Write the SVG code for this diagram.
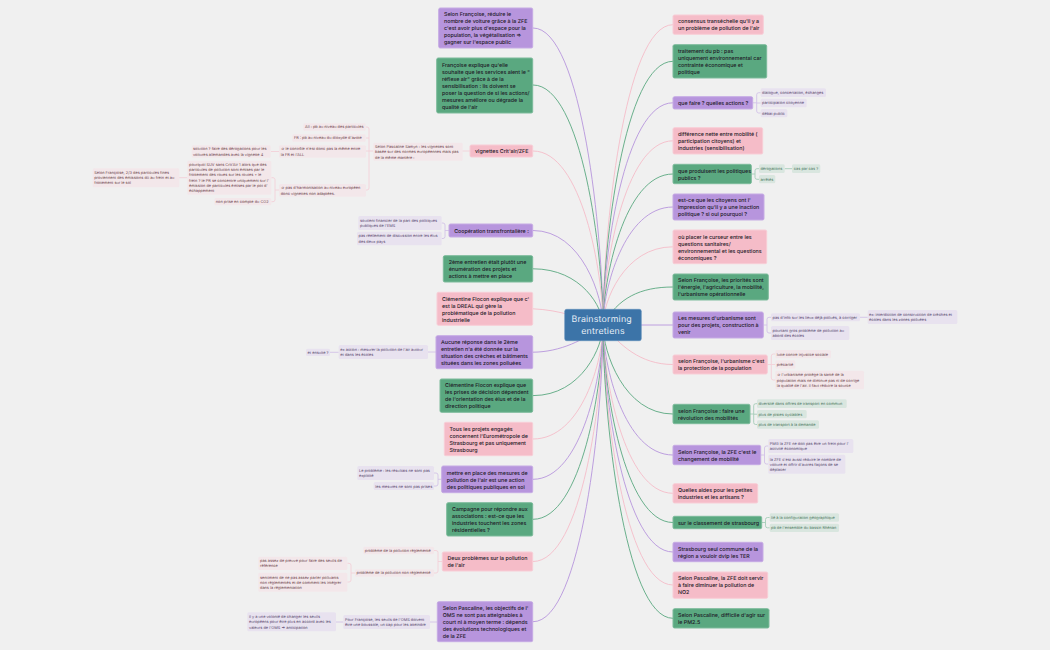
<svg xmlns="http://www.w3.org/2000/svg" width="1050" height="650" viewBox="0 0 1050 650">
<style>
text{font-family:Inter,"Noto Sans","DejaVu Sans",sans-serif;text-rendering:geometricPrecision}
.m{font-size:5.3px;font-weight:500;fill:#1c1826}
.s{font-size:3.9px}
.c{fill:none;stroke-width:.9}
.pu{stroke:#b795dd}.gr{stroke:#5aa880}.pk{stroke:#f5bcc8}
.spu{stroke:#d3c2e8}.sgr{stroke:#a5cdb8}.spk{stroke:#f3d0d8}
.fpu{fill:#b795dd;stroke:#c6abe4}.fgr{fill:#5aa880;stroke:#7cbb9b}.fpk{fill:#f5bcc8;stroke:#f8cdd6}
.p1{fill:#e8e2ef}.p2{fill:#f3e7ea}.p3{fill:#d9e6df}
.t1{fill:#5a4a70}.t2{fill:#704850}.t3{fill:#4f7a64}
</style>
<rect width="1050" height="650" fill="#f0f0f0"/>
<g id="connectors">
<path class="c pu" d="M533 28C582 28 603 236 603 325"/>
<path class="c gr" d="M533 85C582 85 603 253 603 325"/>
<path class="c pk" d="M533 151C582 151 603 273 603 325"/>
<path class="c pu" d="M533 230.500C582 230.500 603 297 603 325"/>
<path class="c gr" d="M533 268.800C582 268.800 603 308 603 325"/>
<path class="c pk" d="M533 308.800C560 310 580 318 603 325"/>
<path class="c pu" d="M533 352.200C560 352 585 340 603 325"/>
<path class="c gr" d="M533 395.600C582 395.600 603 346 603 325"/>
<path class="c pk" d="M533 439C582 439 603 360 603 325"/>
<path class="c pu" d="M533 479.300C582 479.300 603 372 603 325"/>
<path class="c gr" d="M533 519.300C582 519.300 603 384 603 325"/>
<path class="c pk" d="M533 561.500C582 561.500 603 397 603 325"/>
<path class="c pu" d="M533 621.700C582 621.700 603 414 603 325"/>
<path class="c pk" d="M673 24.700C624 24.700 603 235 603 325"/>
<path class="c gr" d="M673 61.300C624 61.300 603 246 603 325"/>
<path class="c pu" d="M673 102.800C624 102.800 603 258 603 325"/>
<path class="c pk" d="M673 140.800C624 140.800 603 270 603 325"/>
<path class="c gr" d="M673 174C624 174 603 280 603 325"/>
<path class="c pu" d="M673 207C624 207 603 290 603 325"/>
<path class="c pk" d="M673 246.800C624 246.800 603 302 603 325"/>
<path class="c gr" d="M673 287C640 287 618 298 603 325"/>
<path class="c pu" d="M673 325L603 325"/>
<path class="c pk" d="M673 364.500C640 364.500 620 345 603 325"/>
<path class="c gr" d="M673 414C624 414 603 352 603 325"/>
<path class="c pu" d="M673 455C624 455 603 364 603 325"/>
<path class="c pk" d="M673 493.300C624 493.300 603 376 603 325"/>
<path class="c gr" d="M673 522.500C624 522.500 603 385 603 325"/>
<path class="c pu" d="M673 552C624 552 603 393 603 325"/>
<path class="c pk" d="M673 585C624 585 603 403 603 325"/>
<path class="c gr" d="M673 618.300C624 618.300 603 413 603 325"/>

<path class="c spk" d="M470 151H462"/>
<path class="c spk" d="M373 151H369M366 127H367Q369 127 369 129V188Q369 190 367 190H366M366 138H369M366 151H369"/>
<path class="c spk" d="M271 151.500H279"/>
<path class="c spk" d="M279 190H275M271.300 177.700H273Q275 177.700 275 179.700V199.700Q275 201.700 273 201.700H271.300"/>
<path class="c spk" d="M179 177.700H187.300"/>
<path class="c spu" d="M449 230.500H445M441.700 223H443Q445 223 445 225V236.500Q445 238.500 443 238.500H441.700"/>
<path class="c spu" d="M436 352H428M338.700 352.300H330"/>
<path class="c spu" d="M441.700 479.300H438M434 473H436Q438 473 438 475V484Q438 486 436 486H434"/>
<path class="c spk" d="M442.300 561.500H438M434 550.500H436Q438 550.500 438 552.500V571Q438 573 436 573H434"/>
<path class="c spk" d="M355 573H351M347.300 563.300H349Q351 563.300 351 565.300V580Q351 582 349 582H347.300"/>
<path class="c spu" d="M437.300 622H430M343.300 622H336"/>
<path class="c spu" d="M752.700 102.800H756.700M760.700 92.700H758.700Q756.700 92.700 756.700 94.700V111Q756.700 113 758.700 113H760.700M756.700 103H760.700"/>
<path class="c sgr" d="M751.300 174H755M759 168.700H757Q755 168.700 755 170.700V177.300Q755 179.300 757 179.300H759M784.700 168.700H792"/>
<path class="c spu" d="M763.300 325H767M771 317.300H769Q767 317.300 767 319.300V331Q767 333 769 333H771M860 317.300H867.700"/>
<path class="c spk" d="M767.300 364.500H771M775.300 354H773.300Q771.300 354 771.300 356V378Q771.300 380 773.300 380H775.300M771.300 364.500H775.300"/>
<path class="c sgr" d="M750 414H753.700M757 403.700H755.700Q753.700 403.700 753.700 405.700V422.500Q753.700 424.500 755.700 424.500H757M753.700 414.200H757"/>
<path class="c spu" d="M760.700 455H764.500M768.300 446H766.500Q764.500 446 764.500 448V462Q764.500 464 766.500 464H768.300"/>
<path class="c sgr" d="M761.700 522.500H765.500M769.700 517.500H767.500Q765.500 517.500 765.500 519.500V525.800Q765.500 527.800 767.500 527.800H769.700"/>
</g>

<g id="center"><rect x="564.700" y="309.300" width="76.600" height="31.400" rx="2" fill="#3c74a8" stroke="#5c8dba" stroke-width=".6"/><text x="601.700" y="322" text-anchor="middle" font-size="8.800" letter-spacing=".2" fill="#e6eef6">Brainstorming</text><text x="603" y="334" text-anchor="middle" font-size="8.800" letter-spacing=".2" fill="#e6eef6">entretiens</text></g>

<g id="l1"><rect class="fpu" x="438.700" y="8" width="94" height="40" rx="1.500"/><text class="m" y="16.300"><tspan x="444">Selon Françoise, réduire le</tspan><tspan x="444" dy="7">nombre de voiture grâce à la ZFE</tspan><tspan x="444" dy="7">c'est avoir plus d'espace pour la</tspan><tspan x="444" dy="7">population, la végétalisation =&gt;</tspan><tspan x="444" dy="7">gagner sur l'espace public</tspan></text></g>
<g id="l2"><rect class="fgr" x="436.700" y="58" width="96" height="55" rx="1.500"/><text class="m" y="66.700"><tspan x="442">Françoise explique qu'elle</tspan><tspan x="442" dy="7">souhaite que les services aient le "</tspan><tspan x="442" dy="7">réflexe air" grâce à de la</tspan><tspan x="442" dy="7">sensibilisation : ils doivent se</tspan><tspan x="442" dy="7">poser la question de si les actions/</tspan><tspan x="442" dy="7">mesures améliore ou dégrade la</tspan><tspan x="442" dy="7">qualité de l'air</tspan></text></g>
<g id="l3"><rect class="fpk" x="470" y="145" width="62.700" height="12" rx="1.500"/><text class="m" x="475" y="153.100">vignettes Crit'air/ZFE</text></g>
<g id="l3a"><rect class="p2" x="373.300" y="142.700" width="89.400" height="18" rx="1.500"/><text class="s t2" y="147.900"><tspan x="375">Selon Pascaline Samyn : les vignettes sont</tspan><tspan x="375" dy="5.300">basée sur des normes européennes mais pas</tspan><tspan x="375" dy="5.300">de la même manière :</tspan></text></g>
<g id="l3b"><rect class="p2" x="303.300" y="123.300" width="62.400" height="7.400" rx="1.500"/><text class="s t2" x="305" y="128.400">All : pb au niveau des particules</text></g>
<g id="l3c"><rect class="p2" x="292.300" y="134.300" width="73.400" height="7.400" rx="1.500"/><text class="s t2" x="294" y="139.400">FR : pb au niveau du dioxyde d'azote</text></g>
<g id="l3d"><rect class="p2" x="279" y="145.300" width="87" height="12.400" rx="1.500"/><text class="s t2" y="150.300"><tspan x="280.700">=&gt; le contrôle n'est donc pas la même entre</tspan><tspan x="280.700" dy="5.300">la FR et l'ALL</tspan></text></g>
<g id="l3e"><rect class="p2" x="191.700" y="145.300" width="79" height="12.400" rx="1.500"/><text class="s t2" y="150.300"><tspan x="193">solution ? faire des dérogations pour les</tspan><tspan x="193" dy="5.300">voitures allemandes avec la vignette 4</tspan></text></g>
<g id="l3f"><rect class="p2" x="279" y="184" width="87" height="12.700" rx="1.500"/><text class="s t2" y="189.200"><tspan x="280.700">=&gt; pas d'harmonisation au niveau européen</tspan><tspan x="280.700" dy="5.300">donc vignettes non adaptées.</tspan></text></g>
<g id="l3g"><rect class="p2" x="187.300" y="160.700" width="84" height="34" rx="1.500"/><text class="s t2" y="165.800"><tspan x="189">pourquoi SUV sans Crit'Air 1 alors que des</tspan><tspan x="189" dy="5.300">particules de pollution sont émises par le</tspan><tspan x="189" dy="5.300">frottement des roues sur les routes + le</tspan><tspan x="189" dy="5.300">frein ? le PR se concentre uniquement sur l'</tspan><tspan x="189" dy="5.300">émission de particules émises par le pot d'</tspan><tspan x="189" dy="5.300">échappement</tspan></text></g>
<g id="l3h"><rect class="p2" x="214.300" y="198" width="57" height="7.300" rx="1.500"/><text class="s t2" x="215.800" y="203.100">non prise en compte du CO2</text></g>
<g id="l3i"><rect class="p2" x="92.700" y="168.300" width="86.600" height="19" rx="1.500"/><text class="s t2" y="173.500"><tspan x="94.200">Selon Françoise, 2/3 des particules fines</tspan><tspan x="94.200" dy="5.300">proviennent des émissions dû au frein et au</tspan><tspan x="94.200" dy="5.300">frottement sur le sol</tspan></text></g>

<g id="l4"><rect class="fpu" x="449" y="224" width="83.700" height="13" rx="1.500"/><text class="m" x="454.200" y="232.600">Coopération transfrontalière :</text></g>
<g id="l4a"><rect class="p1" x="358.300" y="216" width="83.400" height="14" rx="1.500"/><text class="s t1" y="221.800"><tspan x="360">soutient financier de la part des politiques</tspan><tspan x="360" dy="5.300">publiques de l'EMS</tspan></text></g>
<g id="l4b"><rect class="p1" x="357" y="231.700" width="84.700" height="13.600" rx="1.500"/><text class="s t1" y="237.300"><tspan x="358.500">pas réellement de discussion entre les élus</tspan><tspan x="358.500" dy="5.300">des deux pays</tspan></text></g>

<g id="l5"><rect class="fgr" x="443.300" y="255.700" width="89.400" height="26.300" rx="1.500"/><text class="m" y="264"><tspan x="448.700">2ème entretien était plutôt une</tspan><tspan x="448.700" dy="7">énumération des projets et</tspan><tspan x="448.700" dy="7">actions à mettre en place</tspan></text></g>
<g id="l6"><rect class="fpk" x="437" y="292.300" width="95.700" height="33" rx="1.500"/><text class="m" y="300.800"><tspan x="442">Clémentine Flocon explique que c'</tspan><tspan x="442" dy="7">est la DREAL qui gère la</tspan><tspan x="442" dy="7">problématique de la pollution</tspan><tspan x="442" dy="7">industrielle</tspan></text></g>
<g id="l7"><rect class="fpu" x="436" y="335.700" width="96.700" height="33" rx="1.500"/><text class="m" y="344"><tspan x="441">Aucune réponse dans le 2ème</tspan><tspan x="441" dy="7">entretien n'a été donnée sur la</tspan><tspan x="441" dy="7">situation des crèches et bâtiments</tspan><tspan x="441" dy="7">situées dans les zones polluées</tspan></text></g>
<g id="l7a"><rect class="p1" x="338.700" y="345" width="89.300" height="14" rx="1.500"/><text class="s t1" y="350.700"><tspan x="340.300">ex action : mesurer la pollution de l'air autour</tspan><tspan x="340.300" dy="5.300">et dans les écoles</tspan></text></g>
<g id="l7b"><rect class="p1" x="306" y="348.700" width="24" height="7.300" rx="1.500"/><text class="s t1" x="307.500" y="353.800">et ensuite ?</text></g>
<g id="l8"><rect class="fgr" x="440" y="379" width="92.700" height="33.300" rx="1.500"/><text class="m" y="387.300"><tspan x="445">Clémentine Flocon explique que</tspan><tspan x="445" dy="7">les prises de décision dépendent</tspan><tspan x="445" dy="7">de l'orientation des élus et de la</tspan><tspan x="445" dy="7">direction politique</tspan></text></g>
<g id="l9"><rect class="fpk" x="444.300" y="422.300" width="88.400" height="33.400" rx="1.500"/><text class="m" y="430.700"><tspan x="449.500">Tous les projets engagés</tspan><tspan x="449.500" dy="7">concernent l'Eurométropole de</tspan><tspan x="449.500" dy="7">Strasbourg et pas uniquement</tspan><tspan x="449.500" dy="7">Strasbourg</tspan></text></g>
<g id="l10"><rect class="fpu" x="441.700" y="466" width="91" height="26.700" rx="1.500"/><text class="m" y="474.500"><tspan x="446.800">mettre en place des mesures de</tspan><tspan x="446.800" dy="7">pollution de l'air est une action</tspan><tspan x="446.800" dy="7">des politiques publiques en soi</tspan></text></g>
<g id="l10a"><rect class="p1" x="357.300" y="466" width="76.700" height="14" rx="1.500"/><text class="s t1" y="471.800"><tspan x="359">Le problème : les résultats ne sont pas</tspan><tspan x="359" dy="5.300">exploité</tspan></text></g>
<g id="l10b"><rect class="p1" x="373.700" y="482" width="60.300" height="8" rx="1.500"/><text class="s t1" x="375.300" y="487.500">les mesures ne sont pas prises</text></g>
<g id="l11"><rect class="fgr" x="446.700" y="502.700" width="86" height="33.300" rx="1.500"/><text class="m" y="511"><tspan x="452">Campagne pour répondre aux</tspan><tspan x="452" dy="7">associations : est-ce que les</tspan><tspan x="452" dy="7">industries touchent les zones</tspan><tspan x="452" dy="7">résidentielles ?</tspan></text></g>
<g id="l12"><rect class="fpk" x="442.300" y="552" width="90.400" height="19" rx="1.500"/><text class="m" y="560.100"><tspan x="447.500">Deux problèmes sur la pollution</tspan><tspan x="447.500" dy="7">de l'air</tspan></text></g>
<g id="l12a"><rect class="p2" x="363.300" y="546.700" width="70.700" height="7.600" rx="1.500"/><text class="s t2" x="364.800" y="551.900">problème de la pollution réglementé</text></g>
<g id="l12b"><rect class="p2" x="355" y="569.300" width="79" height="7.400" rx="1.500"/><text class="s t2" x="356.500" y="574.400">problème de la pollution non réglementé</text></g>
<g id="l12c"><rect class="p2" x="258.300" y="556.700" width="89" height="13.300" rx="1.500"/><text class="s t2" y="562"><tspan x="260">pas assez de preuve pour faire des seuils de</tspan><tspan x="260" dy="5.300">référence</tspan></text></g>
<g id="l12d"><rect class="p2" x="258.300" y="572.700" width="89" height="19" rx="1.500"/><text class="s t2" y="578.800"><tspan x="260">sentiment de ne pas assez parler polluants</tspan><tspan x="260" dy="5.300">non réglementés et de comment les intégrer</tspan><tspan x="260" dy="5.300">dans la réglementation</tspan></text></g>
<g id="l13"><rect class="fpu" x="437.300" y="601.700" width="95.400" height="40" rx="1.500"/><text class="m" y="610"><tspan x="442.700">Selon Pascaline, les objectifs de l'</tspan><tspan x="442.700" dy="7">OMS ne sont pas atteignables à</tspan><tspan x="442.700" dy="7">court ni à moyen terme : dépends</tspan><tspan x="442.700" dy="7">des évolutions technologiques et</tspan><tspan x="442.700" dy="7">de la ZFE</tspan></text></g>
<g id="l13a"><rect class="p1" x="343.300" y="615" width="86.700" height="14" rx="1.500"/><text class="s t1" y="620.800"><tspan x="345">Pour Françoise, les seuils de l'OMS doivent</tspan><tspan x="345" dy="5.300">être une boussole, un cap pour les atteindre</tspan></text></g>
<g id="l13b"><rect class="p1" x="247.300" y="612.300" width="88.700" height="19" rx="1.500"/><text class="s t1" y="618"><tspan x="249">il y a une volonté de changer les seuils</tspan><tspan x="249" dy="5.300">européens pour être plus en accord avec les</tspan><tspan x="249" dy="5.300">valeurs de l'OMS =&gt; anticipation</tspan></text></g>

<g id="r1"><rect class="fpk" x="673" y="15" width="90.300" height="19.300" rx="1.500"/><text class="m" y="23.300"><tspan x="678">consensus transéchelle qu'il y a</tspan><tspan x="678" dy="7">un problème de pollution de l'air</tspan></text></g>
<g id="r2"><rect class="fgr" x="673" y="44.700" width="93.700" height="33.300" rx="1.500"/><text class="m" y="53"><tspan x="678">traitement du pb : pas</tspan><tspan x="678" dy="7">uniquement environnemental car</tspan><tspan x="678" dy="7">contrainte économique et</tspan><tspan x="678" dy="7">politique</tspan></text></g>
<g id="r3"><rect class="fpu" x="673" y="96.700" width="79.700" height="12.300" rx="1.500"/><text class="m" x="678" y="104.900">que faire ? quelles actions ?</text></g>
<g id="r3a"><rect class="p1" x="760.700" y="88.300" width="65.300" height="8.700" rx="1.500"/><text class="s t1" x="762" y="94">dialogue, concertation, échanges</text></g>
<g id="r3b"><rect class="p1" x="760.700" y="98.700" width="46" height="8.600" rx="1.500"/><text class="s t1" x="762" y="104.400">participation citoyenne</text></g>
<g id="r3c"><rect class="p1" x="760.700" y="109" width="26.600" height="8.300" rx="1.500"/><text class="s t1" x="762" y="114.600">débat public</text></g>
<g id="r4"><rect class="fpk" x="673" y="127.700" width="89.700" height="26.300" rx="1.500"/><text class="m" y="135.900"><tspan x="678">différence nette entre mobilité (</tspan><tspan x="678" dy="7">participation citoyens) et</tspan><tspan x="678" dy="7">industries (sensibilisation)</tspan></text></g>
<g id="r5"><rect class="fgr" x="673" y="164.300" width="78.300" height="19.400" rx="1.500"/><text class="m" y="172.500"><tspan x="678">que produisent les politiques</tspan><tspan x="678" dy="7">publics ?</tspan></text></g>
<g id="r5a"><rect class="p3" x="759" y="164.300" width="25.700" height="8.700" rx="1.500"/><text class="s t3" x="760.400" y="170">dérogations</text></g>
<g id="r5b"><rect class="p3" x="792" y="164.300" width="28.300" height="8.700" rx="1.500"/><text class="s t3" x="793.800" y="170">cas par cas ?</text></g>
<g id="r5c"><rect class="p3" x="759" y="175" width="16.300" height="8.300" rx="1.500"/><text class="s t3" x="760.400" y="180.600">arrêtés</text></g>
<g id="r6"><rect class="fpu" x="673" y="194" width="91" height="26" rx="1.500"/><text class="m" y="202"><tspan x="678">est-ce que les citoyens ont l'</tspan><tspan x="678" dy="7">impression qu'il y a une inaction</tspan><tspan x="678" dy="7">politique ? si oui pourquoi ?</tspan></text></g>
<g id="r7"><rect class="fpk" x="673" y="230" width="93.700" height="33.700" rx="1.500"/><text class="m" y="238.600"><tspan x="678">où placer le curseur entre les</tspan><tspan x="678" dy="7">questions sanitaires/</tspan><tspan x="678" dy="7">environnemental et les questions</tspan><tspan x="678" dy="7">économiques ?</tspan></text></g>
<g id="r8"><rect class="fgr" x="673" y="274" width="95.300" height="26" rx="1.500"/><text class="m" y="282"><tspan x="678">Selon Françoise, les priorités sont</tspan><tspan x="678" dy="7">l'énergie, l'agriculture, la mobilité,</tspan><tspan x="678" dy="7">l'urbanisme opérationnelle</tspan></text></g>
<g id="r9"><rect class="fpu" x="673" y="312" width="90.300" height="26" rx="1.500"/><text class="m" y="320"><tspan x="678">Les mesures d'urbanisme sont</tspan><tspan x="678" dy="7">pour des projets, construction à</tspan><tspan x="678" dy="7">venir</tspan></text></g>
<g id="r9a"><rect class="p1" x="771" y="313.300" width="89" height="8" rx="1.500"/><text class="s t1" x="772.500" y="318.700">pas d'info sur les lieux déjà pollués, à corriger</text></g>
<g id="r9b"><rect class="p1" x="867.700" y="310" width="89.600" height="14" rx="1.500"/><text class="s t1" y="315.700"><tspan x="869">ex: interdiction de construction de crèches et</tspan><tspan x="869" dy="5.300">écoles dans les zones polluées</tspan></text></g>
<g id="r9c"><rect class="p1" x="771" y="326" width="78.300" height="14" rx="1.500"/><text class="s t1" y="331.800"><tspan x="772.500">pourtant gros problème de pollution au</tspan><tspan x="772.500" dy="5.300">abord des écoles</tspan></text></g>
<g id="r10"><rect class="fpk" x="673" y="355" width="94.300" height="19" rx="1.500"/><text class="m" y="363.200"><tspan x="678">selon Françoise, l'urbanisme c'est</tspan><tspan x="678" dy="7">la protection de la population</tspan></text></g>
<g id="r10a"><rect class="p2" x="775.300" y="350" width="55.700" height="8.300" rx="1.500"/><text class="s t2" x="776.800" y="355.600">lutte contre injustice sociale</text></g>
<g id="r10b"><rect class="p2" x="775.300" y="360.300" width="20" height="8.400" rx="1.500"/><text class="s t2" x="776.800" y="365.900">précarité</text></g>
<g id="r10c"><rect class="p2" x="775.300" y="370.700" width="88.700" height="18.600" rx="1.500"/><text class="s t2" y="376.300"><tspan x="776.800">=&gt; l'urbanisme protège la santé de la</tspan><tspan x="776.800" dy="5.300">population mais ne diminue pas ni de corrige</tspan><tspan x="776.800" dy="5.300">la qualité de l'air. il faut réduire la source</tspan></text></g>
<g id="r11"><rect class="fgr" x="673" y="404.300" width="77" height="19.400" rx="1.500"/><text class="m" y="412.500"><tspan x="678">selon Françoise : faire une</tspan><tspan x="678" dy="7">révolution des mobilités</tspan></text></g>
<g id="r11a"><rect class="p3" x="757" y="399.300" width="89.700" height="8.700" rx="1.500"/><text class="s t3" x="758.400" y="405">diversité dans offres de transport en commun</text></g>
<g id="r11b"><rect class="p3" x="757" y="410" width="49.700" height="8.300" rx="1.500"/><text class="s t3" x="758.400" y="415.600">plus de pistes cyclables</text></g>
<g id="r11c"><rect class="p3" x="757" y="420.300" width="62" height="8.400" rx="1.500"/><text class="s t3" x="758.400" y="425.900">plus de transport à la demande</text></g>
<g id="r12"><rect class="fpu" x="673" y="445.300" width="87.700" height="19.400" rx="1.500"/><text class="m" y="453.500"><tspan x="678">Selon Françoise, la ZFE c'est le</tspan><tspan x="678" dy="7">changement de mobilité</tspan></text></g>
<g id="r12a"><rect class="p1" x="768.300" y="439" width="85" height="14" rx="1.500"/><text class="s t1" y="444.800"><tspan x="769.800">PMG la ZFE ne doit pas être un frein pour l'</tspan><tspan x="769.800" dy="5.300">activité économique</tspan></text></g>
<g id="r12b"><rect class="p1" x="768.300" y="454.700" width="77" height="19" rx="1.500"/><text class="s t1" y="460.500"><tspan x="769.800">la ZFE c'est aussi réduire le nombre de</tspan><tspan x="769.800" dy="5.300">voiture et offrir d'autres façons de se</tspan><tspan x="769.800" dy="5.300">déplacer</tspan></text></g>
<g id="r13"><rect class="fpk" x="673" y="483.700" width="84.700" height="19.300" rx="1.500"/><text class="m" y="491.900"><tspan x="678">Quelles aides pour les petites</tspan><tspan x="678" dy="7">industries et les artisans ?</tspan></text></g>
<g id="r14"><rect class="fgr" x="673" y="516.300" width="88.700" height="12.400" rx="1.500"/><text class="m" x="678" y="524.500">sur le classement de strasbourg</text></g>
<g id="r14a"><rect class="p3" x="769.700" y="513.300" width="69.300" height="8.400" rx="1.500"/><text class="s t3" x="771" y="518.900">lié à la configuration géographique</text></g>
<g id="r14b"><rect class="p3" x="769.700" y="523.700" width="69.300" height="8.300" rx="1.500"/><text class="s t3" x="771" y="529.300">pb de l'ensemble du bassin Rhénan</text></g>
<g id="r15"><rect class="fpu" x="673" y="542.300" width="90" height="19.400" rx="1.500"/><text class="m" y="550.500"><tspan x="678">Strasbourg seul commune de la</tspan><tspan x="678" dy="7">région a vouloir dvlp les TER</tspan></text></g>
<g id="r16"><rect class="fpk" x="673" y="572" width="94.700" height="26.300" rx="1.500"/><text class="m" y="580"><tspan x="678">Selon Pascaline, la ZFE doit servir</tspan><tspan x="678" dy="7">à faire diminuer la pollution de</tspan><tspan x="678" dy="7">NO2</tspan></text></g>
<g id="r17"><rect class="fgr" x="673" y="608.700" width="96" height="19.300" rx="1.500"/><text class="m" y="616.900"><tspan x="678">Selon Pascaline, difficile d'agir sur</tspan><tspan x="678" dy="7">le PM2.5</tspan></text></g>
</svg>
